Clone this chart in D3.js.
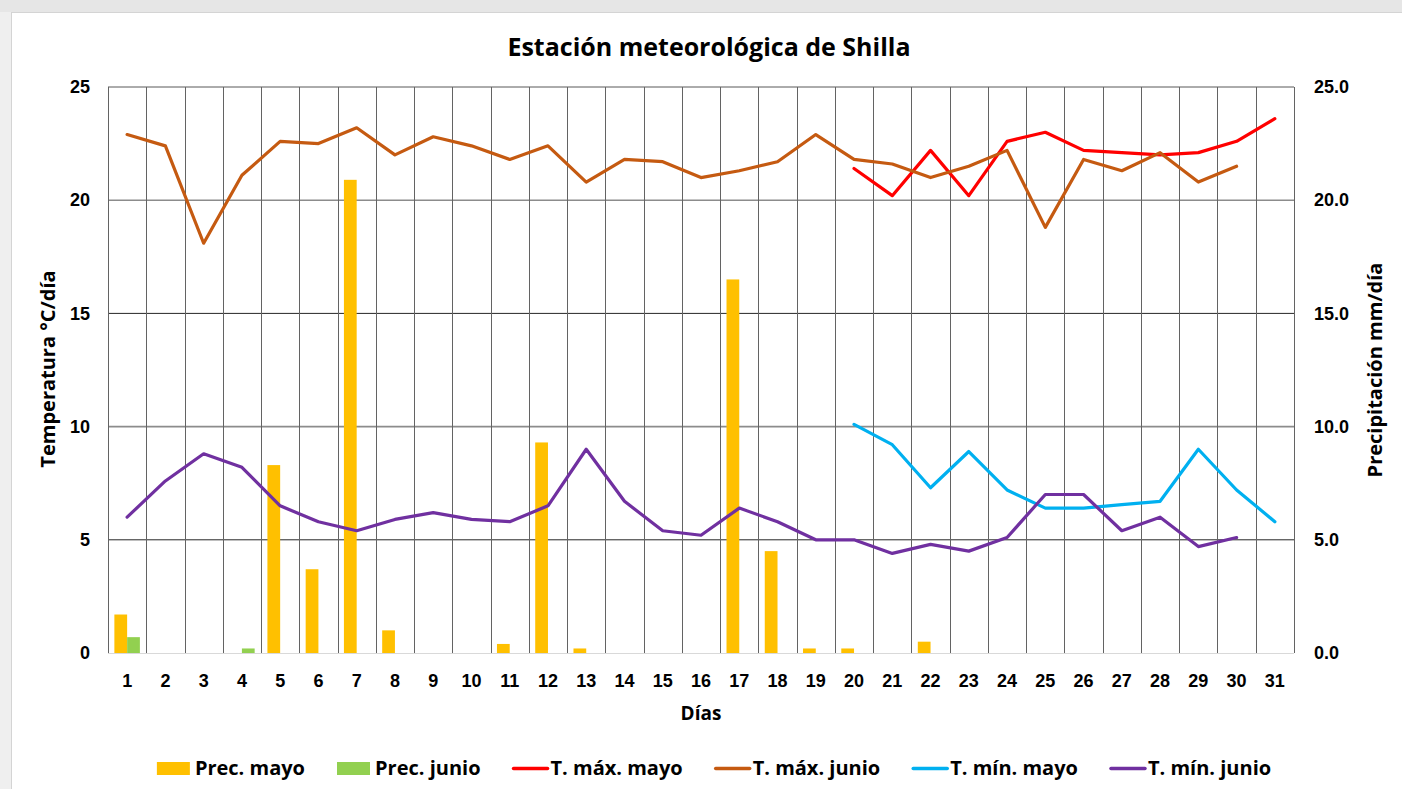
<!DOCTYPE html>
<html>
<head>
<meta charset="utf-8">
<script src="https://cdn.jsdelivr.net/npm/d3@7"></script>
<style>
  html, body { margin: 0; padding: 0; background: #efefef; }
  svg { display: block; font-family: "Open Sans", sans-serif; }
  .tick text { font-weight: bold; fill: #000; }
</style>
</head>
<body>
<svg id="chart" width="1402" height="789"></svg>
<script>
// datos
const days = ["1","2","3","4","5","6","7","8","9","10","11","12","13","14","15","16","17","18","19","20","21","22","23","24","25","26","27","28","29","30","31"];

const precMayo  = [1.7, 0, 0, 0, 8.3, 3.7, 20.9, 1.0, 0, 0, 0.4, 9.3, 0.2, 0, 0, 0, 16.5, 4.5, 0.2, 0.2, 0, 0.5, 0, 0, 0, 0, 0, 0, 0, 0, 0];
const precJunio = [0.7, 0, 0, 0.2, 0, 0, 0, 0, 0, 0, 0, 0, 0, 0, 0, 0, 0, 0, 0, 0, 0, 0, 0, 0, 0, 0, 0, 0, 0, 0, null];

const tmaxMayo  = [null, null, null, null, null, null, null, null, null, null, null, null, null, null, null, null, null, null, null,
                   21.4, 20.2, 22.2, 20.2, 22.6, 23.0, 22.2, 22.1, 22.0, 22.1, 22.6, 23.6];
const tmaxJunio = [22.9, 22.4, 18.1, 21.1, 22.6, 22.5, 23.2, 22.0, 22.8, 22.4, 21.8, 22.4, 20.8, 21.8, 21.7, 21.0, 21.3, 21.7, 22.9, 21.8,
                   21.6, 21.0, 21.5, 22.2, 18.8, 21.8, 21.3, 22.1, 20.8, 21.5, null];
const tminMayo  = [null, null, null, null, null, null, null, null, null, null, null, null, null, null, null, null, null, null, null,
                   10.1, 9.2, 7.3, 8.9, 7.2, 6.4, 6.4, 6.55, 6.7, 9.0, 7.2, 5.8];
const tminJunio = [6.0, 7.6, 8.8, 8.2, 6.5, 5.8, 5.4, 5.9, 6.2, 5.9, 5.8, 6.5, 9.0, 6.7, 5.4, 5.2, 6.4, 5.8, 5.0, 5.0,
                   4.4, 4.8, 4.5, 5.1, 7.0, 7.0, 5.4, 6.0, 4.7, 5.1, null];

const tempTicks = [0, 5, 10, 15, 20, 25];
const precTicks = [0, 5, 10, 15, 20, 25];

const barSeries = [
  { name: "Prec. mayo",  key: "mayo",  values: precMayo,  color: "#ffc000" },
  { name: "Prec. junio", key: "junio", values: precJunio, color: "#92d050" }
];
const lineSeries = [
  { name: "T. máx. mayo",  values: tmaxMayo,  color: "#ff0000" },
  { name: "T. máx. junio", values: tmaxJunio, color: "#c55a11" },
  { name: "T. mín. mayo",  values: tminMayo,  color: "#00b0f0" },
  { name: "T. mín. junio", values: tminJunio, color: "#7030a0" }
];

const W = 1402, H = 789;
const plot = { left: 108, right: 1294, top: 87, bottom: 653 };

const svg = d3.select("#chart");

// marco tipo ventana
svg.append("rect").attr("x", 0).attr("y", 0).attr("width", W).attr("height", H).attr("fill", "#efefef");
svg.append("rect").attr("x", 0).attr("y", 0).attr("width", W).attr("height", 12).attr("fill", "#e6e6e6");
svg.append("rect").attr("x", 11.5).attr("y", 12.5).attr("width", W).attr("height", H)
  .attr("fill", "#fff").attr("stroke", "#d4d4d4");

const x = d3.scaleBand().domain(days).range([plot.left, plot.right]).padding(0);
const xBar = d3.scaleBand().domain(barSeries.map(s => s.key)).range([0, x.bandwidth()])
  .paddingInner(0).paddingOuter(0.5);
const yTemp = d3.scaleLinear().domain([0, 25]).range([plot.bottom, plot.top]);
const yPrec = d3.scaleLinear().domain([0, 25]).range([plot.bottom, plot.top]);

// líneas de cuadrícula horizontales
svg.append("g").selectAll("line")
  .data(tempTicks.filter(t => t > 0))
  .join("line")
  .attr("x1", plot.left).attr("x2", plot.right)
  .attr("y1", d => yTemp(d)).attr("y2", d => yTemp(d))
  .attr("stroke", d => d === 25 ? "#595959" : (d % 10 === 0 ? "#8c8c8c" : "#262626"))
  .attr("stroke-width", d => d % 10 === 0 && d !== 25 ? 1.6 : 1);

// líneas verticales entre días
const bounds = days.map(d => x(d)).concat([plot.right]);
svg.append("g").selectAll("line")
  .data(bounds)
  .join("line")
  .attr("x1", d => Math.round(d) + 0.5).attr("x2", d => Math.round(d) + 0.5)
  .attr("y1", plot.top).attr("y2", plot.bottom)
  .attr("stroke", "#636363").attr("stroke-width", 1);

// eje inferior
svg.append("line")
  .attr("x1", plot.left).attr("x2", plot.right)
  .attr("y1", plot.bottom + 0.5).attr("y2", plot.bottom + 0.5)
  .attr("stroke", "#d9d9d9").attr("stroke-width", 1.2);

// barras de precipitación
barSeries.forEach(s => {
  svg.append("g").selectAll("rect")
    .data(days.map((d, i) => ({ day: d, v: s.values[i] })).filter(d => d.v != null && d.v > 0))
    .join("rect")
    .attr("x", d => x(d.day) + xBar(s.key))
    .attr("width", xBar.bandwidth())
    .attr("y", d => yPrec(d.v))
    .attr("height", d => yPrec(0) - yPrec(d.v))
    .attr("fill", s.color);
});

// líneas de temperatura
const line = d3.line()
  .defined(d => d.v != null)
  .x(d => x(d.day) + x.bandwidth() / 2)
  .y(d => yTemp(d.v));

lineSeries.forEach(s => {
  svg.append("path")
    .datum(days.map((d, i) => ({ day: d, v: s.values[i] })))
    .attr("fill", "none")
    .attr("stroke", s.color)
    .attr("stroke-width", 3.2)
    .attr("stroke-linejoin", "round")
    .attr("stroke-linecap", "round")
    .attr("d", line);
});

// ejes
const axL = svg.append("g").attr("transform", `translate(${plot.left},0)`)
  .call(d3.axisLeft(yTemp).tickValues(tempTicks).tickSize(0).tickPadding(18));
axL.select(".domain").remove();
axL.selectAll("text").style("font-size", "18px");

const axR = svg.append("g").attr("transform", `translate(${plot.right},0)`)
  .call(d3.axisRight(yPrec).tickValues(precTicks).tickFormat(d3.format(".1f")).tickSize(0).tickPadding(20));
axR.select(".domain").remove();
axR.selectAll("text").style("font-size", "18px");

const axB = svg.append("g").attr("transform", `translate(0,${plot.bottom})`)
  .call(d3.axisBottom(x).tickSize(0).tickPadding(21));
axB.select(".domain").remove();
axB.selectAll("text").style("font-size", "18px");

// títulos
svg.append("text")
  .attr("x", 709).attr("y", 56)
  .attr("text-anchor", "middle")
  .style("font-size", "25px").style("font-weight", "bold")
  .text("Estación meteorológica de Shilla");

svg.append("text")
  .attr("x", 701).attr("y", 720)
  .attr("text-anchor", "middle")
  .style("font-size", "19px").style("font-weight", "bold")
  .text("Días");

svg.append("text")
  .attr("transform", "translate(55,369) rotate(-90)")
  .attr("text-anchor", "middle")
  .style("font-size", "20px").style("font-weight", "bold")
  .text("Temperatura °C/día");

svg.append("text")
  .attr("transform", "translate(1382,370) rotate(-90)")
  .attr("text-anchor", "middle")
  .style("font-size", "20px").style("font-weight", "bold")
  .text("Precipitación mm/día");

// leyenda
const legendItems = barSeries.map(s => ({ name: s.name, color: s.color, type: "bar" }))
  .concat(lineSeries.map(s => ({ name: s.name, color: s.color, type: "line" })));

const legend = svg.append("g");
const items = legend.selectAll("g").data(legendItems).join("g");
items.append("text")
  .attr("x", 38).attr("y", 775)
  .style("font-size", "20px").style("font-weight", "bold")
  .text(d => d.name);
items.each(function(d) {
  const g = d3.select(this);
  if (d.type === "bar") {
    g.append("rect").attr("x", 0).attr("y", 762).attr("width", 33).attr("height", 13).attr("fill", d.color);
  } else {
    g.append("line").attr("x1", 1).attr("x2", 35).attr("y1", 768.5).attr("y2", 768.5)
      .attr("stroke", d.color).attr("stroke-width", 3.5).attr("stroke-linecap", "round");
  }
});

let widths = [];
items.each(function() { widths.push(38 + this.querySelector("text").getComputedTextLength()); });
const gap = 32;
const total = d3.sum(widths) + gap * (widths.length - 1);
let cx = 714 - total / 2;
items.attr("transform", (d, i) => {
  const t = `translate(${cx},0)`;
  cx += widths[i] + gap;
  return t;
});
</script>
</body>
</html>
